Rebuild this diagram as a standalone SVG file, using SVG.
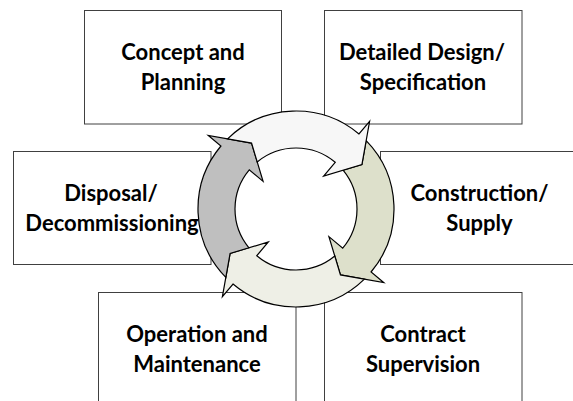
<svg xmlns="http://www.w3.org/2000/svg" width="573" height="401" viewBox="0 0 573 401">
<defs>
<style>
.box{fill:#ffffff;stroke:#404040;stroke-width:1}
.lbl{font-family:Lato,"Open Sans","Liberation Sans",sans-serif;font-weight:bold;font-size:22px;fill:#000000;text-anchor:middle}
.arr{stroke:#000000;stroke-width:1.2;stroke-linejoin:miter}
</style>
<path id="arrowShape" d="M9.78,-97.51 A98,98 0 0 1 98,0 L114.5,0 L76.42,21.91 L43,0 L61,0 A61,61 0 0 0 11.13,-59.98 L21.91,-76.42 Z"/>
</defs>
<rect width="573" height="401" fill="#ffffff"/>
<g id="concept">
<rect class="box" x="84.5" y="10.5" width="197" height="113.5"/>
<text class="lbl" x="183" y="59.5">Concept and</text>
<text class="lbl" x="183" y="89.5">Planning</text>
</g>
<g id="detailed">
<rect class="box" x="324.5" y="10.5" width="197.5" height="113.5"/>
<text class="lbl" x="422" y="59.5">Detailed Design/</text>
<text class="lbl" x="423" y="89.5">Specification</text>
</g>
<g id="disposal">
<rect class="box" x="13.5" y="151.5" width="197.5" height="113"/>
<text class="lbl" x="111" y="201">Disposal/</text>
<text class="lbl" x="112" y="231">Decommissioning</text>
</g>
<g id="construction">
<rect class="box" x="380.5" y="151.5" width="198" height="113"/>
<text class="lbl" x="479.5" y="201">Construction/</text>
<text class="lbl" x="479.5" y="231">Supply</text>
</g>
<g id="operation">
<rect class="box" x="98.5" y="292.5" width="197.5" height="115"/>
<text class="lbl" x="197" y="342">Operation and</text>
<text class="lbl" x="197" y="372">Maintenance</text>
</g>
<g id="contract">
<rect class="box" x="324.5" y="292.5" width="197.5" height="115"/>
<text class="lbl" x="423" y="342">Contract</text>
<text class="lbl" x="423" y="372">Supervision</text>
</g>
<g id="connectors">
<use href="#arrowShape" class="arr" fill="#dde0cb" transform="translate(296,209) rotate(40)"/>
<use href="#arrowShape" class="arr" fill="#eeefe6" transform="translate(296,209) rotate(130)"/>
<use href="#arrowShape" class="arr" fill="#bfbfbf" transform="translate(296,209) rotate(220)"/>
<use href="#arrowShape" class="arr" fill="#f7f7f7" transform="translate(296,209) rotate(310)"/>
</g>
</svg>
